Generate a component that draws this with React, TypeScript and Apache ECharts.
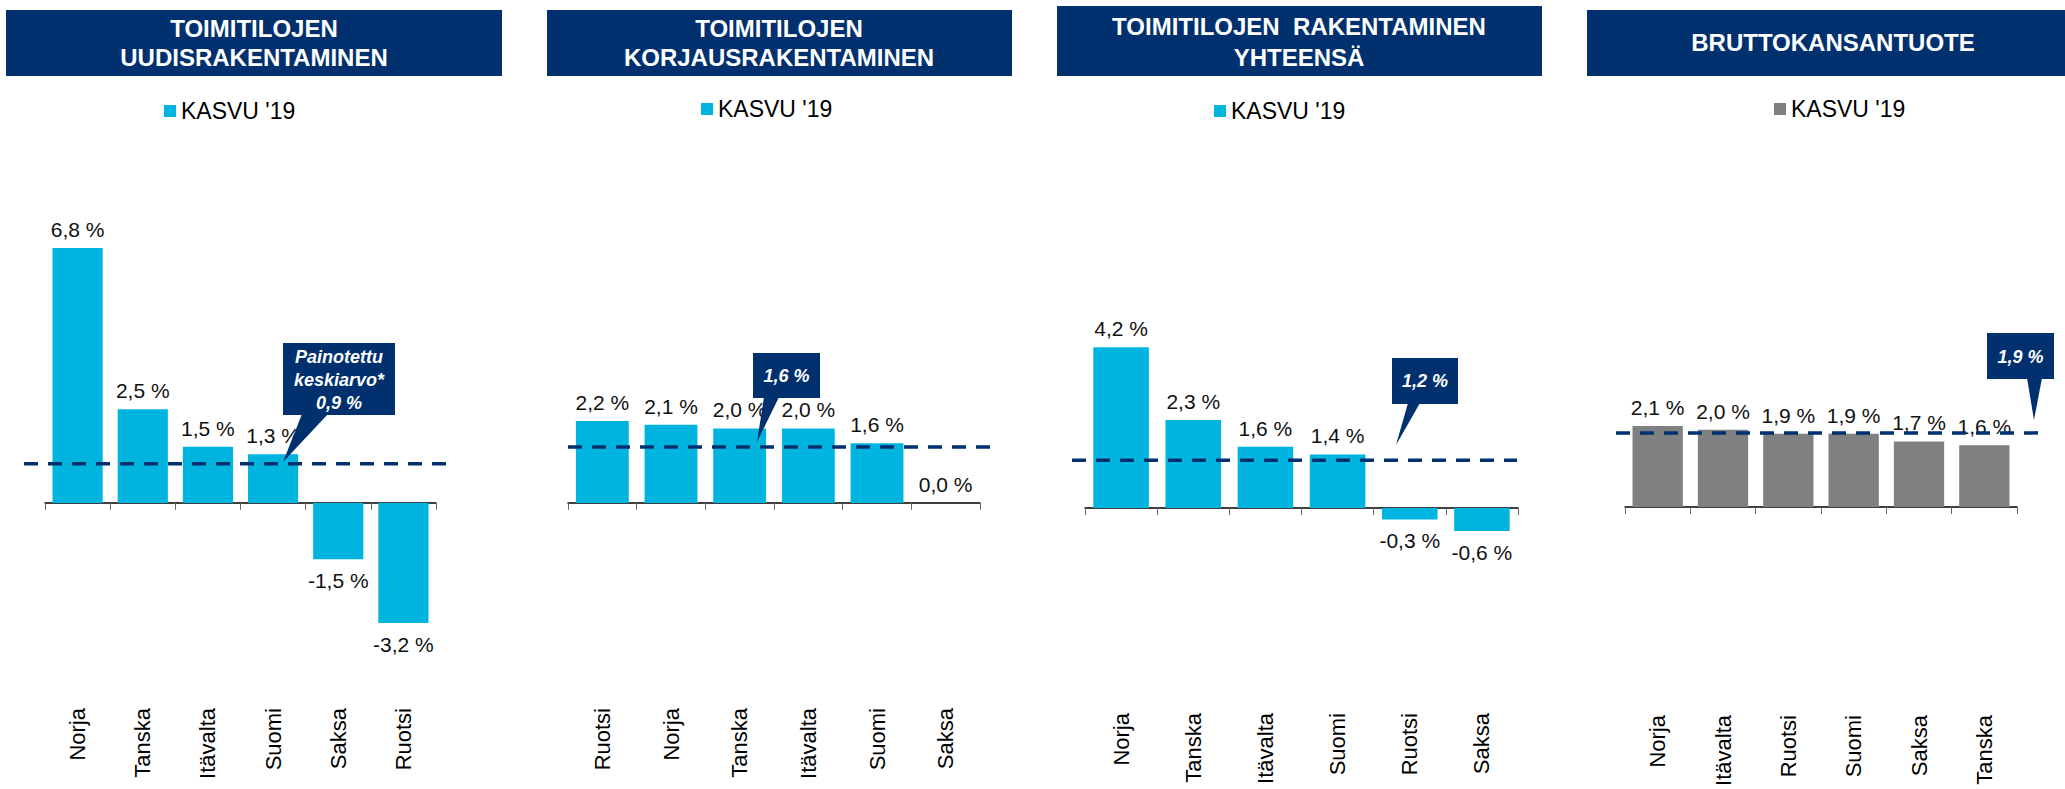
import React, { useEffect, useRef } from 'react';
import * as echarts from 'echarts';

// ---------- DATA ----------
const legendLabel = "KASVU '19";

const titles1 = ['TOIMITILOJEN', 'UUDISRAKENTAMINEN'];
const categories1 = ['Norja', 'Tanska', 'Itävalta', 'Suomi', 'Saksa', 'Ruotsi'];
const values1 = [6.8, 2.5, 1.5, 1.3, -1.5, -3.2];

const titles2 = ['TOIMITILOJEN', 'KORJAUSRAKENTAMINEN'];
const categories2 = ['Ruotsi', 'Norja', 'Tanska', 'Itävalta', 'Suomi', 'Saksa'];
const values2 = [2.2, 2.1, 2.0, 2.0, 1.6, 0.0];

const titles3 = ['TOIMITILOJEN  RAKENTAMINEN', 'YHTEENSÄ'];
const categories3 = ['Norja', 'Tanska', 'Itävalta', 'Suomi', 'Ruotsi', 'Saksa'];
const values3 = [4.2, 2.3, 1.6, 1.4, -0.3, -0.6];

const titles4 = ['BRUTTOKANSANTUOTE'];
const categories4 = ['Norja', 'Itävalta', 'Ruotsi', 'Suomi', 'Saksa', 'Tanska'];
const values4 = [2.1, 2.0, 1.9, 1.9, 1.7, 1.6];

// weighted averages (callout texts) and the level of the dashed line as drawn
const averages = [0.9, 1.6, 1.2, 1.9];
const averageLineLevels = [1.05, 1.5, 1.25, 1.92];
const calloutPrefix1 = ['Painotettu', 'keskiarvo*'];

const yMin = -4;
const yMax = 8;

// ---------- STYLE / LAYOUT ----------
const FONT = "'Liberation Sans', Arial, Helvetica, sans-serif";
const NAVY = '#00306E';
const CYAN = '#00B4E0';
const GRAY = '#808080';

const fmt = (v: number) => v.toFixed(1).replace('.', ',') + ' %';

type Panel = {
  titles: string[];
  cats: string[];
  vals: number[];
  color: string;
  gridLeft: number;
  gridWidth: number;
  zeroY: number;
  scale: number;
  labelTop: number;
  lineX: [number, number];
  titleBox: [number, number, number, number];
  titleCenterX: number;
  titleLineY: number[];
  legendX: number;
  legendY: number;
  box: [number, number, number, number];
  pointer: number[][];
  calloutLines: string[];
  calloutLineY: number[];
};

const panels: Panel[] = [
  {
    titles: titles1, cats: categories1, vals: values1, color: CYAN,
    gridLeft: 45, gridWidth: 391, zeroY: 503, scale: 37.5, labelTop: 708,
    lineX: [24, 449],
    titleBox: [6, 10, 496, 66], titleCenterX: 254, titleLineY: [28, 57.5],
    legendX: 164, legendY: 111,
    box: [283, 343, 112, 72],
    pointer: [[302, 414], [328, 414], [283, 462]],
    calloutLines: [...calloutPrefix1, fmt(averages[0])],
    calloutLineY: [357, 380, 403],
  },
  {
    titles: titles2, cats: categories2, vals: values2, color: CYAN,
    gridLeft: 568, gridWidth: 412, zeroY: 503, scale: 37.3, labelTop: 708,
    lineX: [568, 992],
    titleBox: [547, 10, 465, 66], titleCenterX: 779, titleLineY: [28, 57.5],
    legendX: 701, legendY: 109,
    box: [753, 353, 67, 45],
    pointer: [[764, 397], [779, 397], [757, 442]],
    calloutLines: [fmt(averages[1])],
    calloutLineY: [376],
  },
  {
    titles: titles3, cats: categories3, vals: values3, color: CYAN,
    gridLeft: 1085, gridWidth: 433, zeroY: 508, scale: 38.3, labelTop: 713,
    lineX: [1072, 1517],
    titleBox: [1057, 6, 485, 70], titleCenterX: 1299, titleLineY: [26, 57],
    legendX: 1214, legendY: 111,
    box: [1392, 358, 66, 46],
    pointer: [[1408, 403], [1420, 403], [1396, 445]],
    calloutLines: [fmt(averages[2])],
    calloutLineY: [381],
  },
  {
    titles: titles4, cats: categories4, vals: values4, color: GRAY,
    gridLeft: 1625, gridWidth: 392, zeroY: 507, scale: 38.6, labelTop: 715,
    lineX: [1616, 2047],
    titleBox: [1587, 10, 490, 66], titleCenterX: 1833, titleLineY: [42.5],
    legendX: 1774, legendY: 109,
    box: [1987, 333, 67, 46],
    pointer: [[2027, 378], [2042, 378], [2034, 420]],
    calloutLines: [fmt(averages[3])],
    calloutLineY: [357],
  },
];

function buildOption() {
  const grid: any[] = [];
  const xAxis: any[] = [];
  const yAxis: any[] = [];
  const series: any[] = [];
  const graphic: any[] = [];

  panels.forEach((p, i) => {
    const top = p.zeroY - yMax * p.scale;
    const height = (yMax - yMin) * p.scale;
    const gridBottom = top + height;
    grid.push({ left: p.gridLeft, top, width: p.gridWidth, height, containLabel: false, outerBoundsMode: 'none' });
    xAxis.push({
      type: 'category',
      gridIndex: i,
      data: p.cats,
      axisLine: { show: true, onZero: true, lineStyle: { color: '#000', width: 1.5 } },
      axisTick: { show: true, length: 7, lineStyle: { color: '#666', width: 1 } },
      axisLabel: {
        rotate: 90,
        margin: p.labelTop - gridBottom,
        interval: 0,
        fontSize: 22,
        color: '#000',
        fontFamily: FONT,
        hideOverlap: false,
      },
      splitLine: { show: false },
    });
    yAxis.push({ type: 'value', gridIndex: i, min: yMin, max: yMax, show: false, splitLine: { show: false } });
    series.push({
      type: 'bar',
      name: legendLabel,
      xAxisIndex: i,
      yAxisIndex: i,
      barCategoryGap: '23%',
      itemStyle: { color: p.color },
      data: p.vals.map((v) => ({
        value: v,
        label: { position: v < 0 ? 'bottom' : 'top', distance: v < 0 ? 11 : 8 },
      })),
      label: {
        show: true,
        formatter: (d: any) => fmt(d.value),
        fontSize: 21,
        color: '#111',
        fontFamily: FONT,
      },
      silent: true,
      z: 2,
    });
  });

  // overlay grids for the dashed average lines
  panels.forEach((p, i) => {
    const top = p.zeroY - yMax * p.scale;
    const height = (yMax - yMin) * p.scale;
    const gi = panels.length + i;
    grid.push({ left: p.lineX[0], top, width: p.lineX[1] - p.lineX[0], height, containLabel: false, outerBoundsMode: 'none' });
    xAxis.push({ type: 'value', gridIndex: gi, min: 0, max: 1, show: false, splitLine: { show: false } });
    yAxis.push({ type: 'value', gridIndex: gi, min: yMin, max: yMax, show: false, splitLine: { show: false } });
    series.push({
      type: 'line',
      name: 'keskiarvo',
      xAxisIndex: gi,
      yAxisIndex: gi,
      data: [[0, averageLineLevels[i]], [1, averageLineLevels[i]]],
      symbol: 'none',
      lineStyle: { color: NAVY, width: 3.5, type: [14, 10] },
      silent: true,
      z: 5,
    });
  });

  panels.forEach((p) => {
    // title
    graphic.push({
      type: 'rect',
      shape: { x: p.titleBox[0], y: p.titleBox[1], width: p.titleBox[2], height: p.titleBox[3] },
      style: { fill: NAVY },
      z: 10,
    });
    p.titles.forEach((t, k) => {
      graphic.push({
        type: 'text',
        x: p.titleCenterX,
        y: p.titleLineY[k],
        style: {
          text: t,
          fill: '#fff',
          font: `bold 24px ${FONT}`,
          align: 'center',
          verticalAlign: 'middle',
        },
        z: 11,
      });
    });
    // legend
    graphic.push({
      type: 'rect',
      shape: { x: p.legendX, y: p.legendY - 6, width: 12, height: 12 },
      style: { fill: p.color },
      z: 10,
    });
    graphic.push({
      type: 'text',
      x: p.legendX + 17,
      y: p.legendY,
      style: { text: legendLabel, fill: '#000', font: `23px ${FONT}`, align: 'left', verticalAlign: 'middle' },
      z: 10,
    });
    // callout
    graphic.push({
      type: 'polygon',
      shape: { points: p.pointer },
      style: { fill: NAVY },
      z: 20,
    });
    graphic.push({
      type: 'rect',
      shape: { x: p.box[0], y: p.box[1], width: p.box[2], height: p.box[3] },
      style: { fill: NAVY },
      z: 20,
    });
    p.calloutLines.forEach((t, k) => {
      graphic.push({
        type: 'text',
        x: p.box[0] + p.box[2] / 2,
        y: p.calloutLineY[k],
        style: {
          text: t,
          fill: '#fff',
          font: `italic bold 18px ${FONT}`,
          align: 'center',
          verticalAlign: 'middle',
        },
        z: 21,
      });
    });
  });

  return {
    animation: false,
    backgroundColor: '#fff',
    grid,
    xAxis,
    yAxis,
    series,
    graphic,
  };
}

export default function App() {
  const ref = useRef<HTMLDivElement>(null);
  useEffect(() => {
    if (!ref.current) return;
    const chart = echarts.init(ref.current, null, { renderer: 'svg' });
    chart.setOption(buildOption() as any);
    return () => chart.dispose();
  }, []);
  return (
    <div
      ref={ref}
      style={{ position: 'absolute', left: 0, top: 0, width: 2065, height: 789, background: '#fff' }}
    />
  );
}
